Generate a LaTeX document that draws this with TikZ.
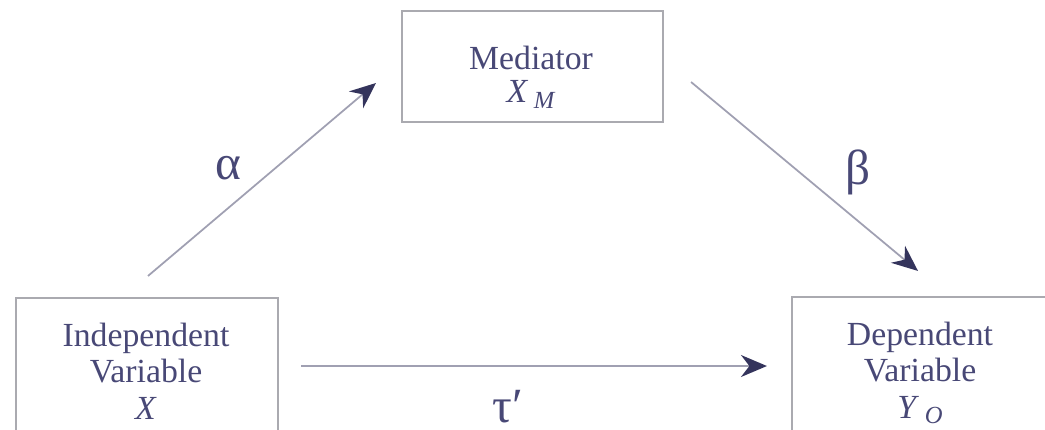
\documentclass[tikz,border=0pt]{standalone}
\usepackage{fontspec}
\setmainfont{Liberation Serif}
\usetikzlibrary{arrows.meta}
\definecolor{inkblue}{RGB}{72,72,118}
\definecolor{headblue}{RGB}{52,52,92}
\definecolor{boxgray}{RGB}{170,170,176}
\definecolor{linegray}{RGB}{160,160,178}
\tikzset{
  varbox/.style={draw=boxgray, line width=0.6pt, inner sep=0pt},
  vartext/.style={text=inkblue, align=center, inner sep=0pt, font=\fontsize{9.6}{10.4}\selectfont},
  greek/.style={text=inkblue, inner sep=0pt, font=\fontsize{14}{14}\selectfont},
  patharrow/.style={draw=linegray, line width=0.5pt, -{Stealth[length=2.6mm,width=2.2mm,color=headblue]}}
}
\newcommand{\subvar}[2]{\textit{#1}\,\raisebox{-0.35ex}{\fontsize{7}{7}\selectfont\textit{#2}}}
\begin{document}
\begin{tikzpicture}
    \useasboundingbox (0,0) rectangle (10.45,4.29);
    \node[varbox, minimum width=2.61cm, minimum height=1.11cm] (med) at (5.325,3.625) {};
    \node[varbox, minimum width=2.62cm, minimum height=1.5cm] (indep) at (1.47,0.56) {};
    \node[varbox, minimum width=2.6cm, minimum height=1.5cm] (dep) at (9.22,0.57) {};
    \node[vartext] (medtext) at (5.31,3.52) {Mediator\\[-0.03cm]\subvar{X}{M}};
    \node[vartext] (indeptext) at (1.46,0.58) {Independent\\Variable\\\textit{X}};
    \node[vartext] (deptext) at (9.20,0.56) {Dependent\\Variable\\\subvar{Y}{O}};
    \draw[patharrow] ([shift={(0.01,0.21)}]indep.north) -- ([shift={(-0.25,-0.165)}]med.west);
    \draw[patharrow] ([shift={(0.27,-0.155)}]med.east) -- ([shift={(-0.04,0.25)}]dep.north);
    \draw[patharrow] ([shift={(0.22,0.07)}]indep.east) -- ([shift={(-0.24,0.06)}]dep.west);
    \node[greek] (alpha) at (2.28,2.61) {α};
    \node[greek] (beta) at (8.58,2.57) {β};
    \node[greek] (tau) at (5.08,0.22) {τ′};
\end{tikzpicture}
\end{document}
